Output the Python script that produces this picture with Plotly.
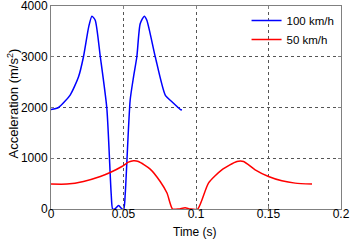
import plotly.graph_objects as go

# 100 km/h series
t100 = [0.0, 0.0052, 0.0132, 0.019, 0.0224, 0.026, 0.0282, 0.0305, 0.034, 0.0385,
        0.0415, 0.0425, 0.044, 0.0466, 0.049, 0.0502, 0.0512, 0.0546, 0.0569, 0.0592, 0.0615, 0.0643,
        0.0661, 0.0719, 0.0788, 0.0834, 0.0891, 0.0903]
a100 = [1960, 2000, 2245, 2605, 3000, 3590, 3800, 3720, 3000, 1985,
        300, 0, 0, 70, 0, 0, 300, 2147, 2600, 3000, 3650, 3800,
        3720, 3000, 2245, 2113, 1965, 1950]

# 50 km/h series
t50 = [0.0, 0.011, 0.0224, 0.034, 0.0408, 0.0489, 0.0534, 0.0569, 0.0603, 0.0684,
       0.0753, 0.080, 0.0838, 0.088, 0.0925, 0.096, 0.1012, 0.1086, 0.1178, 0.1282,
       0.1328, 0.1408, 0.15, 0.1592, 0.1684, 0.18]
a50 = [491, 491, 542, 640, 719, 837, 923, 949, 935, 786,
       542, 314, 0, 0, 25, 0, 0, 510, 772, 935,
       935, 772, 640, 556, 510, 491]

x_ticks = [0, 0.05, 0.1, 0.15, 0.2]
x_labels = ["0", "0.05", "0.1", "0.15", "0.2"]
y_ticks = [0, 1000, 2000, 3000, 4000]

FONT = "Liberation Sans, Arial"

fig = go.Figure()
fig.add_trace(go.Scatter(x=t100, y=a100, mode="lines", name="100 km/h",
                         line=dict(color="#0000ff", width=1.5, shape="spline", smoothing=0.6)))
fig.add_trace(go.Scatter(x=t50, y=a50, mode="lines", name="50 km/h",
                         line=dict(color="#ff0000", width=1.5, shape="spline", smoothing=0.6)))

axis_common = dict(showline=True, linecolor="#808080", linewidth=1, mirror="ticks",
                   showgrid=True, gridcolor="#555555", griddash="dot", gridwidth=1,
                   ticks="inside", ticklen=3, tickcolor="#808080", zeroline=False,
                   automargin=False, ticklabeloverflow="allow",
                   tickfont=dict(family=FONT, size=12, color="black"))

fig.update_xaxes(range=[0, 0.2], tickvals=x_ticks, ticktext=x_labels,
                 ticklabelstandoff=-6, **axis_common)
fig.update_yaxes(range=[0, 4000], tickvals=y_ticks, **axis_common)

fig.add_annotation(text="Time (s)", xref="paper", yref="paper", x=0.497, y=-0.113,
                   xanchor="center", yanchor="middle", showarrow=False,
                   font=dict(family=FONT, size=12, color="black"))
fig.add_annotation(text="Acceleration (m/s<sup>2</sup>)", xref="paper", yref="paper",
                   x=-0.131, y=0.52, xanchor="center", yanchor="middle", textangle=-90,
                   showarrow=False, font=dict(family=FONT, size=13, color="black"))

fig.update_layout(
    width=350, height=240,
    margin=dict(l=51, r=9, t=6, b=31, autoexpand=False),
    paper_bgcolor="white", plot_bgcolor="white",
    showlegend=True,
    legend=dict(x=0.995, y=1.0, xanchor="right", yanchor="top",
                bgcolor="rgba(255,255,255,0)", borderwidth=0,
                font=dict(family=FONT, size=11.5, color="black"),
                itemwidth=30, tracegroupgap=0),
)

fig.write_html("out.html", config={"displayModeBar": False},
               post_script="document.body.style.margin='0';document.body.style.overflow='hidden';")
